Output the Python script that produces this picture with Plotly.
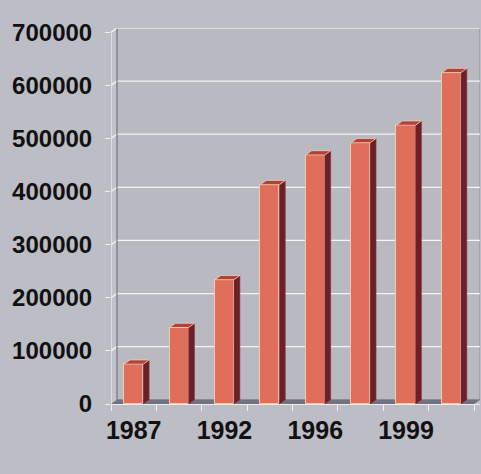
import plotly.graph_objects as go

# ---- data ----
values = [75000, 144000, 234000, 413000, 469000, 492000, 525000, 624000]
tick_positions = [0, 2, 4, 6]
tick_labels = ["1987", "1992", "1996", "1999"]
y_ticks = [0, 100000, 200000, 300000, 400000, 500000, 600000, 700000]

# ---- styling / geometry ----
FRONT = "#DF6E5B"
SIDE = "#6B1F28"
TOP = "#AE433B"
EDGE = "#F6C9AE"
FLOOR = "#71717F"
BG = "#BDBDC5"
WALL = "#B9B9C1"
GRID = "#F4F4F4"
BW = 0.42          # bar width in category units
DX = 0.13          # depth offset x (category units)
DY = 8000          # depth offset y (value units)
YMAX = y_ticks[-1]
n = len(values)
XL, XR = -0.5, n - 0.5

fig = go.Figure()

shapes = []
# back wall
shapes.append(dict(type="rect", xref="x", yref="y", layer="below",
                   x0=XL + DX, x1=XR + DX, y0=DY, y1=YMAX + DY,
                   fillcolor=WALL, line=dict(color="#8A8A94", width=1)))
# left wall
shapes.append(dict(type="path", xref="x", yref="y", layer="below",
                   path=f"M {XL},0 L {XL+DX},{DY} L {XL+DX},{YMAX+DY} L {XL},{YMAX} Z",
                   fillcolor="#C2C2CA", line=dict(width=0)))
# gridlines on back wall + connectors on left wall
for v in y_ticks[1:]:
    shapes.append(dict(type="line", xref="x", yref="y", layer="below",
                       x0=XL + DX, x1=XR + DX, y0=v + DY, y1=v + DY,
                       line=dict(color=GRID, width=1.3)))
    shapes.append(dict(type="line", xref="x", yref="y", layer="below",
                       x0=XL, x1=XL + DX, y0=v, y1=v + DY,
                       line=dict(color=GRID, width=1.3)))
# back wall left edge (dark line)
shapes.append(dict(type="line", xref="x", yref="y", layer="below",
                   x0=XL + DX, x1=XL + DX, y0=DY, y1=YMAX + DY,
                   line=dict(color="#7E7E8A", width=1.2)))
# floor
shapes.append(dict(type="path", xref="x", yref="y", layer="below",
                   path=f"M {XL},0 L {XR},0 L {XR+DX},{DY} L {XL+DX},{DY} Z",
                   fillcolor=FLOOR, line=dict(width=0)))
# front left axis line
shapes.append(dict(type="line", xref="x", yref="y", layer="below",
                   x0=XL, x1=XL, y0=0, y1=YMAX,
                   line=dict(color="#EDEDED", width=1.3)))
shapes.append(dict(type="line", xref="x", yref="y", layer="below",
                   x0=XL, x1=XL + DX, y0=YMAX, y1=YMAX + DY,
                   line=dict(color="#EDEDED", width=1.3)))

# side and top faces of bars
sx, sy, tx, ty = [], [], [], []
for i, v in enumerate(values):
    r = i + BW / 2
    l = i - BW / 2
    sx += [r, r + DX, r + DX, r, r, None]
    sy += [0, DY, v + DY, v, 0, None]
    tx += [l, r, r + DX, l + DX, l, None]
    ty += [v, v, v + DY, v + DY, v, None]

fig.add_trace(go.Scatter(x=sx, y=sy, mode="lines", fill="toself", fillcolor=SIDE,
                         line=dict(color="#8A3A3A", width=0.6), hoverinfo="skip",
                         showlegend=False))
fig.add_trace(go.Scatter(x=tx, y=ty, mode="lines", fill="toself", fillcolor=TOP,
                         line=dict(color=EDGE, width=0.8), hoverinfo="skip",
                         showlegend=False))
fig.add_trace(go.Bar(x=list(range(n)), y=values, width=BW,
                     marker=dict(color=FRONT, line=dict(color=EDGE, width=1)),
                     showlegend=False))

# boundary ticks via overlay axis
fig.add_trace(go.Scatter(x=[XL, XR], y=[None, None], xaxis="x2", showlegend=False,
                         hoverinfo="skip"))

XFONT = dict(family="Liberation Sans", size=25, color="#111111", weight="bold")
YFONT = dict(family="Liberation Sans", size=24, color="#111111", weight="bold")

fig.update_layout(
    width=481, height=474,
    margin=dict(l=111, r=1, t=28, b=70),
    paper_bgcolor=BG, plot_bgcolor=BG,
    shapes=shapes,
    bargap=0,
    xaxis=dict(range=[XL, XR + DX], tickvals=tick_positions, ticktext=tick_labels,
               showgrid=False, zeroline=False, showline=True, linecolor="#EDEDED",
               linewidth=1.3, ticks="", ticklabelstandoff=4, tickfont=XFONT),
    xaxis2=dict(range=[XL, XR + DX], overlaying="x", anchor="y", side="bottom",
                tickvals=[i - 0.5 for i in range(n + 1)], showticklabels=False,
                ticks="outside", ticklen=6, tickcolor="#F0F0F0", tickwidth=1.3,
                showgrid=False, zeroline=False, showline=False),
    yaxis=dict(range=[0, YMAX + DY], tickvals=y_ticks, tickformat="d",
               showgrid=False, zeroline=False, showline=False, ticks="outside",
               ticklen=5, tickcolor="#F0F0F0", tickwidth=1.3, ticklabelstandoff=8,
               tickfont=YFONT),
)

fig.write_html("out.html")
